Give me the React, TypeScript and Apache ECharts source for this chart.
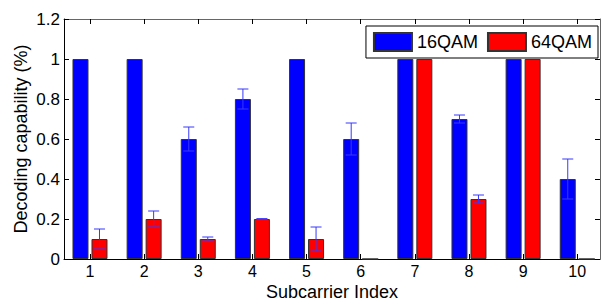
import React, { useEffect, useRef } from "react";
import * as echarts from "echarts";

const categories = [1, 2, 3, 4, 5, 6, 7, 8, 9, 10];
const values16 = [1, 1, 0.6, 0.8, 1, 0.6, 1, 0.7, 1, 0.4];
const values64 = [0.1, 0.2, 0.1, 0.2, 0.1, 0, 1, 0.3, 1, 0];
const err16 = [0, 0, 0.06, 0.05, 0, 0.08, 0, 0.02, 0, 0.1];
const err64 = [0.05, 0.04, 0.01, 0.002, 0.06, 0, 0, 0.02, 0, 0];
const yTicks = [0, 0.2, 0.4, 0.6, 0.8, 1, 1.2];

const BAR_W = 16;
const BAR_GAP = 3;
const CAP = 5.5;
const ERR_COLOR = "#3838ff";
const FONT = "'Liberation Sans', Arial, sans-serif";

function errorSeries(vals: number[], errs: number[], dir: number) {
  const data = categories
    .map((c, i) => [c, vals[i], errs[i]])
    .filter((d) => d[2] > 0);
  return {
    type: "custom",
    xAxisIndex: 0,
    yAxisIndex: 0,
    silent: true,
    z: 5,
    data,
    renderItem: (params: any, api: any) => {
      const x = api.value(0);
      const v = api.value(1);
      const e = api.value(2);
      const hi = api.coord([x, v + e]);
      const lo = api.coord([x, v - e]);
      const off = (dir * (BAR_W + BAR_GAP)) / 2;
      const cx = hi[0] + off;
      const style = { stroke: ERR_COLOR, lineWidth: 1 };
      return {
        type: "group",
        children: [
          { type: "line", shape: { x1: cx, y1: hi[1], x2: cx, y2: lo[1] }, style },
          { type: "line", shape: { x1: cx - CAP, y1: hi[1], x2: cx + CAP, y2: hi[1] }, style },
          { type: "line", shape: { x1: cx - CAP, y1: lo[1], x2: cx + CAP, y2: lo[1] }, style },
        ],
      };
    },
  };
}

export default function App() {
  const ref = useRef<HTMLDivElement>(null);
  useEffect(() => {
    if (!ref.current) return;
    const chart = echarts.init(ref.current, undefined, { renderer: "svg" });
    const inTick = { show: true, inside: true, length: 5, lineStyle: { color: "#000", width: 1 } };
    chart.setOption({
      animation: false,
      backgroundColor: "#fff",
      textStyle: { fontFamily: FONT },
      grid: { left: 64, right: 2, top: 19, bottom: 42, containLabel: false, outerBoundsMode: "none" },
      legend: {
        right: 4,
        top: 26,
        orient: "horizontal",
        itemWidth: 38,
        itemHeight: 18,
        itemGap: 9,
        padding: [6, 6, 6, 7],
        borderColor: "#000",
        borderWidth: 1,
        borderRadius: 0,
        backgroundColor: "#fff",
        icon: "rect",
        textStyle: { fontSize: 18, color: "#000", fontFamily: FONT },
        data: ["16QAM", "64QAM"],
      },
      xAxis: [
        {
          type: "value",
          min: 0.52,
          max: 10.42,
          position: "bottom",
          name: "Subcarrier Index",
          nameLocation: "middle",
          nameGap: 24,
          nameMoveOverlap: false,
          nameTextStyle: { fontSize: 18, lineHeight: 18, color: "#000", fontFamily: FONT },
          axisLine: { show: true, onZero: false, lineStyle: { color: "#000", width: 1 } },
          axisTick: { ...inTick, customValues: categories },
          axisLabel: { customValues: categories, fontSize: 16, lineHeight: 15, color: "#000", margin: 5, fontFamily: FONT },
          splitLine: { show: false },
        },
        {
          type: "value",
          min: 0.52,
          max: 10.42,
          position: "top",
          axisLine: { show: true, onZero: false, lineStyle: { color: "#666", width: 1 } },
          axisTick: { ...inTick, customValues: categories },
          axisLabel: { show: false },
          splitLine: { show: false },
        },
      ],
      yAxis: [
        {
          type: "value",
          min: 0,
          max: 1.2,
          interval: 0.2,
          position: "left",
          name: "Decoding capability (%)",
          nameLocation: "middle",
          nameGap: 34,
          nameMoveOverlap: false,
          nameTextStyle: { fontSize: 18, color: "#000", fontFamily: FONT },
          axisLine: { show: true, lineStyle: { color: "#000", width: 1 } },
          axisTick: { ...inTick, customValues: yTicks },
          axisLabel: { customValues: yTicks, fontSize: 17, color: "#000", margin: 4, fontFamily: FONT },
          splitLine: { show: false },
        },
        {
          type: "value",
          min: 0,
          max: 1.2,
          interval: 0.2,
          position: "right",
          axisLine: { show: true, lineStyle: { color: "#666", width: 1 } },
          axisTick: { ...inTick, customValues: yTicks },
          axisLabel: { show: false },
          splitLine: { show: false },
        },
      ],
      series: [
        {
          name: "16QAM",
          type: "bar",
          xAxisIndex: 0,
          yAxisIndex: 0,
          barWidth: BAR_W,
          barGap: (BAR_GAP / BAR_W) * 100 + "%",
          itemStyle: { color: "#0000ff", borderColor: "#333", borderWidth: 1 },
          data: categories.map((c, i) => [c, values16[i]]),
        },
        {
          name: "64QAM",
          type: "bar",
          xAxisIndex: 0,
          yAxisIndex: 0,
          barWidth: BAR_W,
          barGap: (BAR_GAP / BAR_W) * 100 + "%",
          itemStyle: { color: "#ff0000", borderColor: "#333", borderWidth: 1 },
          data: categories.map((c, i) => [c, values64[i]]),
        },
        errorSeries(values16, err16, -1),
        errorSeries(values64, err64, 1),
      ],
    });
    return () => chart.dispose();
  }, []);
  return (
    <div
      ref={ref}
      style={{ position: "fixed", left: 0, top: 0, width: 602, height: 301 }}
    />
  );
}
